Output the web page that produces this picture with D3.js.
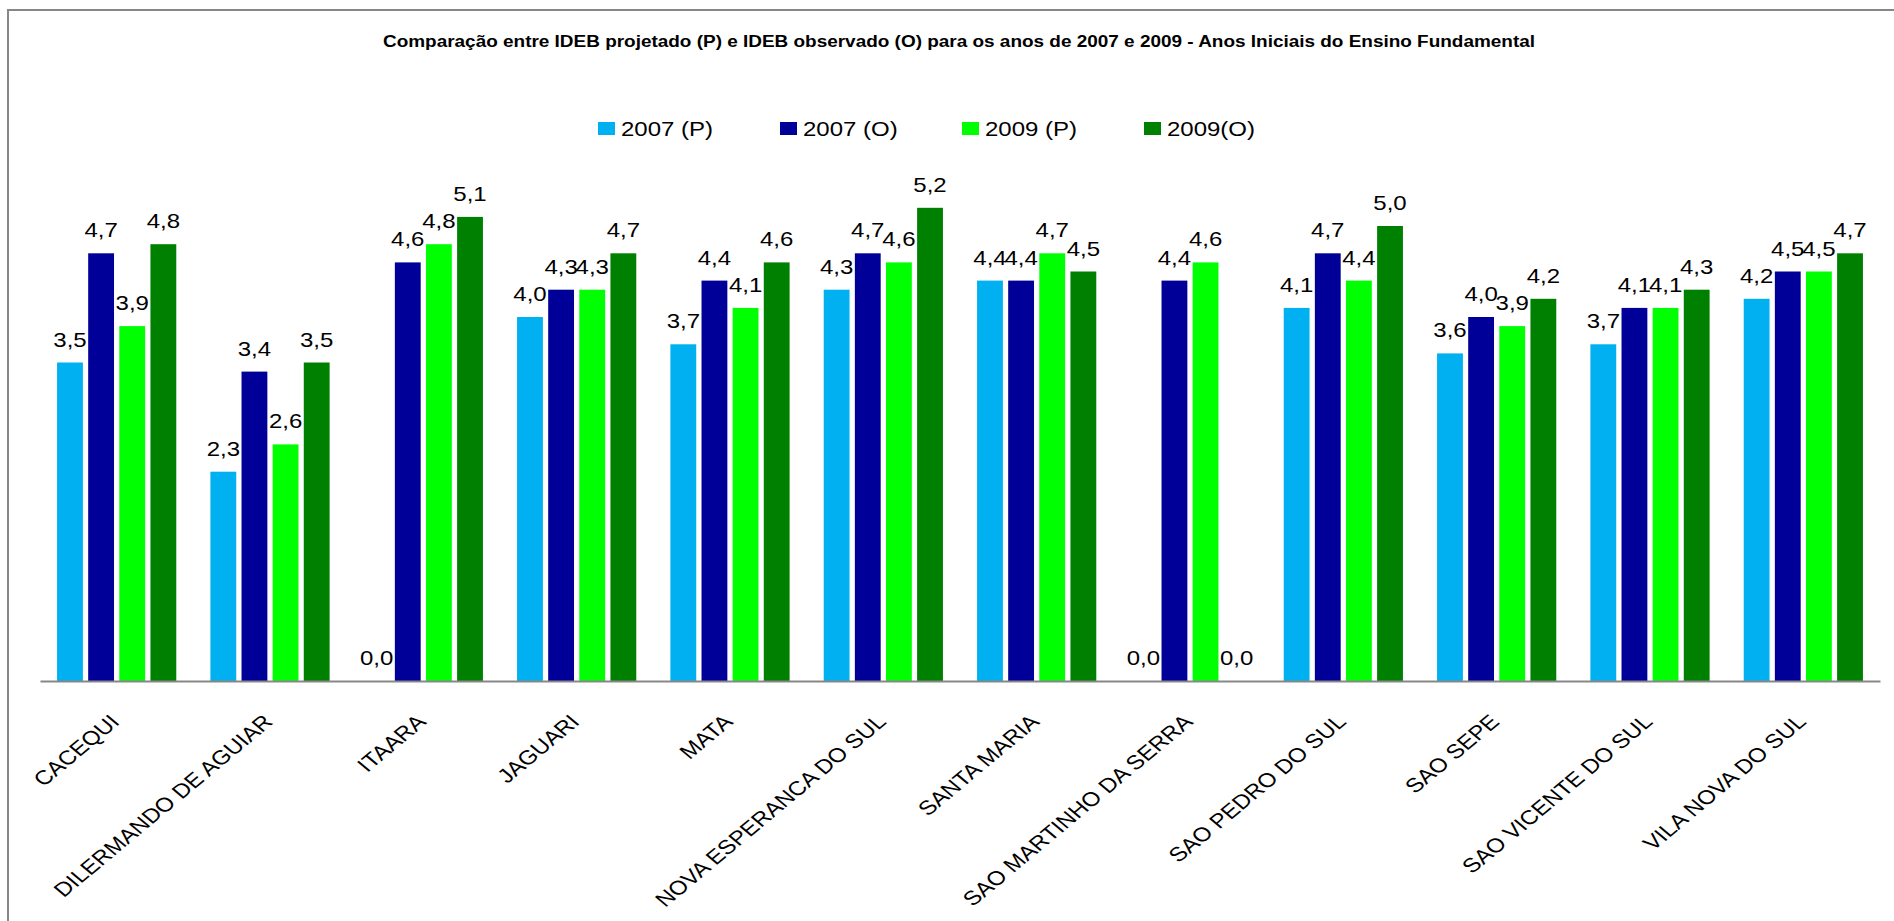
<!DOCTYPE html>
<html>
<head>
<meta charset="utf-8">
<script src="https://cdn.jsdelivr.net/npm/d3@7"></script>
<style>
    body { margin: 0; background: #fff; }
    svg { display: block; }
    text { font-family: "Liberation Sans", Arial, sans-serif; fill: #000; }
</style>
</head>
<body>
<svg id="chart"></svg>
<script>
// dados do gráfico
const categories = [
    "CACEQUI", "DILERMANDO DE AGUIAR", "ITAARA", "JAGUARI", "MATA",
    "NOVA ESPERANCA DO SUL", "SANTA MARIA", "SAO MARTINHO DA SERRA",
    "SAO PEDRO DO SUL", "SAO SEPE", "SAO VICENTE DO SUL", "VILA NOVA DO SUL"
];
const seriesNames = ["2007 (P)", "2007 (O)", "2009 (P)", "2009(O)"];
const projetado2007 = [3.5, 2.3, 0.0, 4.0, 3.7, 4.3, 4.4, 0.0, 4.1, 3.6, 3.7, 4.2];
const observado2007 = [4.7, 3.4, 4.6, 4.3, 4.4, 4.7, 4.4, 4.4, 4.7, 4.0, 4.1, 4.5];
const projetado2009 = [3.9, 2.6, 4.8, 4.3, 4.1, 4.6, 4.7, 4.6, 4.4, 3.9, 4.1, 4.5];
const observado2009 = [4.8, 3.5, 5.1, 4.7, 4.6, 5.2, 4.5, 0.0, 5.0, 4.2, 4.3, 4.7];
const seriesColors = ["#00B0F0", "#000099", "#00FF00", "#008000"];
const yDomain = [0, 6];
const title = "Comparação entre IDEB projetado (P) e IDEB observado (O) para os anos de 2007 e 2009 - Anos Iniciais do Ensino Fundamental";

const seriesValues = [projetado2007, observado2007, projetado2009, observado2009];

const width = 1894, height = 921;
const stretch = 1.2; // o texto original aparece esticado na horizontal
const margin = { top: 135, left: 40, right: 14, bottom: 240 };

const svg = d3.select("#chart")
    .attr("width", width)
    .attr("height", height);

// moldura do gráfico (só topo e esquerda visíveis)
svg.append("path")
    .attr("d", `M8,${height} V10 H${width}`)
    .attr("fill", "none")
    .attr("stroke", "#878787")
    .attr("stroke-width", 2);

// escalas
const x0 = d3.scaleBand()
    .domain(categories)
    .range([margin.left, width - margin.right])
    .paddingInner(0.19)
    .paddingOuter(0.095);

const x1 = d3.scaleBand()
    .domain(seriesNames)
    .range([0, x0.bandwidth()])
    .paddingInner(0.17)
    .paddingOuter(0.08);

const y = d3.scaleLinear()
    .domain(yDomain)
    .range([height - margin.bottom - 0, margin.top]);

const fmt = v => d3.format(".1f")(v).replace(".", ",");

// título
svg.append("text")
    .attr("transform", `translate(${width / 2 + 12},46.5) scale(${stretch},1)`)
    .attr("text-anchor", "middle")
    .attr("font-weight", "bold")
    .attr("font-size", 17)
    .attr("textLength", 960)
    .attr("lengthAdjust", "spacingAndGlyphs")
    .text(title);

// legenda
const legend = svg.append("g")
    .attr("transform", "translate(598,0)");

const legendItem = legend.selectAll("g")
    .data(seriesNames)
    .enter()
    .append("g")
    .attr("transform", (d, i) => `translate(${i * 182},0)`);

legendItem.append("rect")
    .attr("x", 0)
    .attr("y", 122)
    .attr("width", 17)
    .attr("height", 13)
    .attr("fill", (d, i) => seriesColors[i]);

legendItem.append("text")
    .attr("transform", `translate(23,135.5) scale(${stretch},1)`)
    .attr("font-size", 20)
    .text(d => d);

// barras
const rows = categories.map((c, ci) => ({
    category: c,
    values: seriesNames.map((s, si) => ({ series: s, index: si, value: seriesValues[si][ci] }))
}));

const groups = svg.append("g")
    .selectAll("g")
    .data(rows)
    .enter()
    .append("g")
    .attr("transform", d => `translate(${x0(d.category)},0)`);

groups.selectAll("rect")
    .data(d => d.values)
    .enter()
    .append("rect")
    .attr("x", d => x1(d.series))
    .attr("y", d => y(d.value))
    .attr("width", x1.bandwidth())
    .attr("height", d => y(0) - y(d.value))
    .attr("fill", d => seriesColors[d.index]);

// rótulos de valor
groups.selectAll("text")
    .data(d => d.values)
    .enter()
    .append("text")
    .attr("transform", d => `translate(${x1(d.series) + x1.bandwidth() / 2},${y(d.value) - 16}) scale(${stretch},1)`)
    .attr("text-anchor", "middle")
    .attr("font-size", 20)
    .text(d => fmt(d.value));

// eixo x
const xAxis = svg.append("g")
    .attr("transform", `translate(0,${y(0)})`)
    .call(d3.axisBottom(x0).tickSize(0).tickSizeOuter(0));

xAxis.select(".domain")
    .attr("stroke", "#878787")
    .attr("stroke-width", 2);

xAxis.selectAll(".tick text")
    .attr("x", null)
    .attr("y", null)
    .attr("dy", null)
    .attr("font-family", null)
    .attr("font-size", 20)
    .attr("fill", "#000")
    .attr("text-anchor", "end")
    .attr("transform", `translate(4,42) scale(${stretch},1) rotate(-45)`);
</script>
</body>
</html>
